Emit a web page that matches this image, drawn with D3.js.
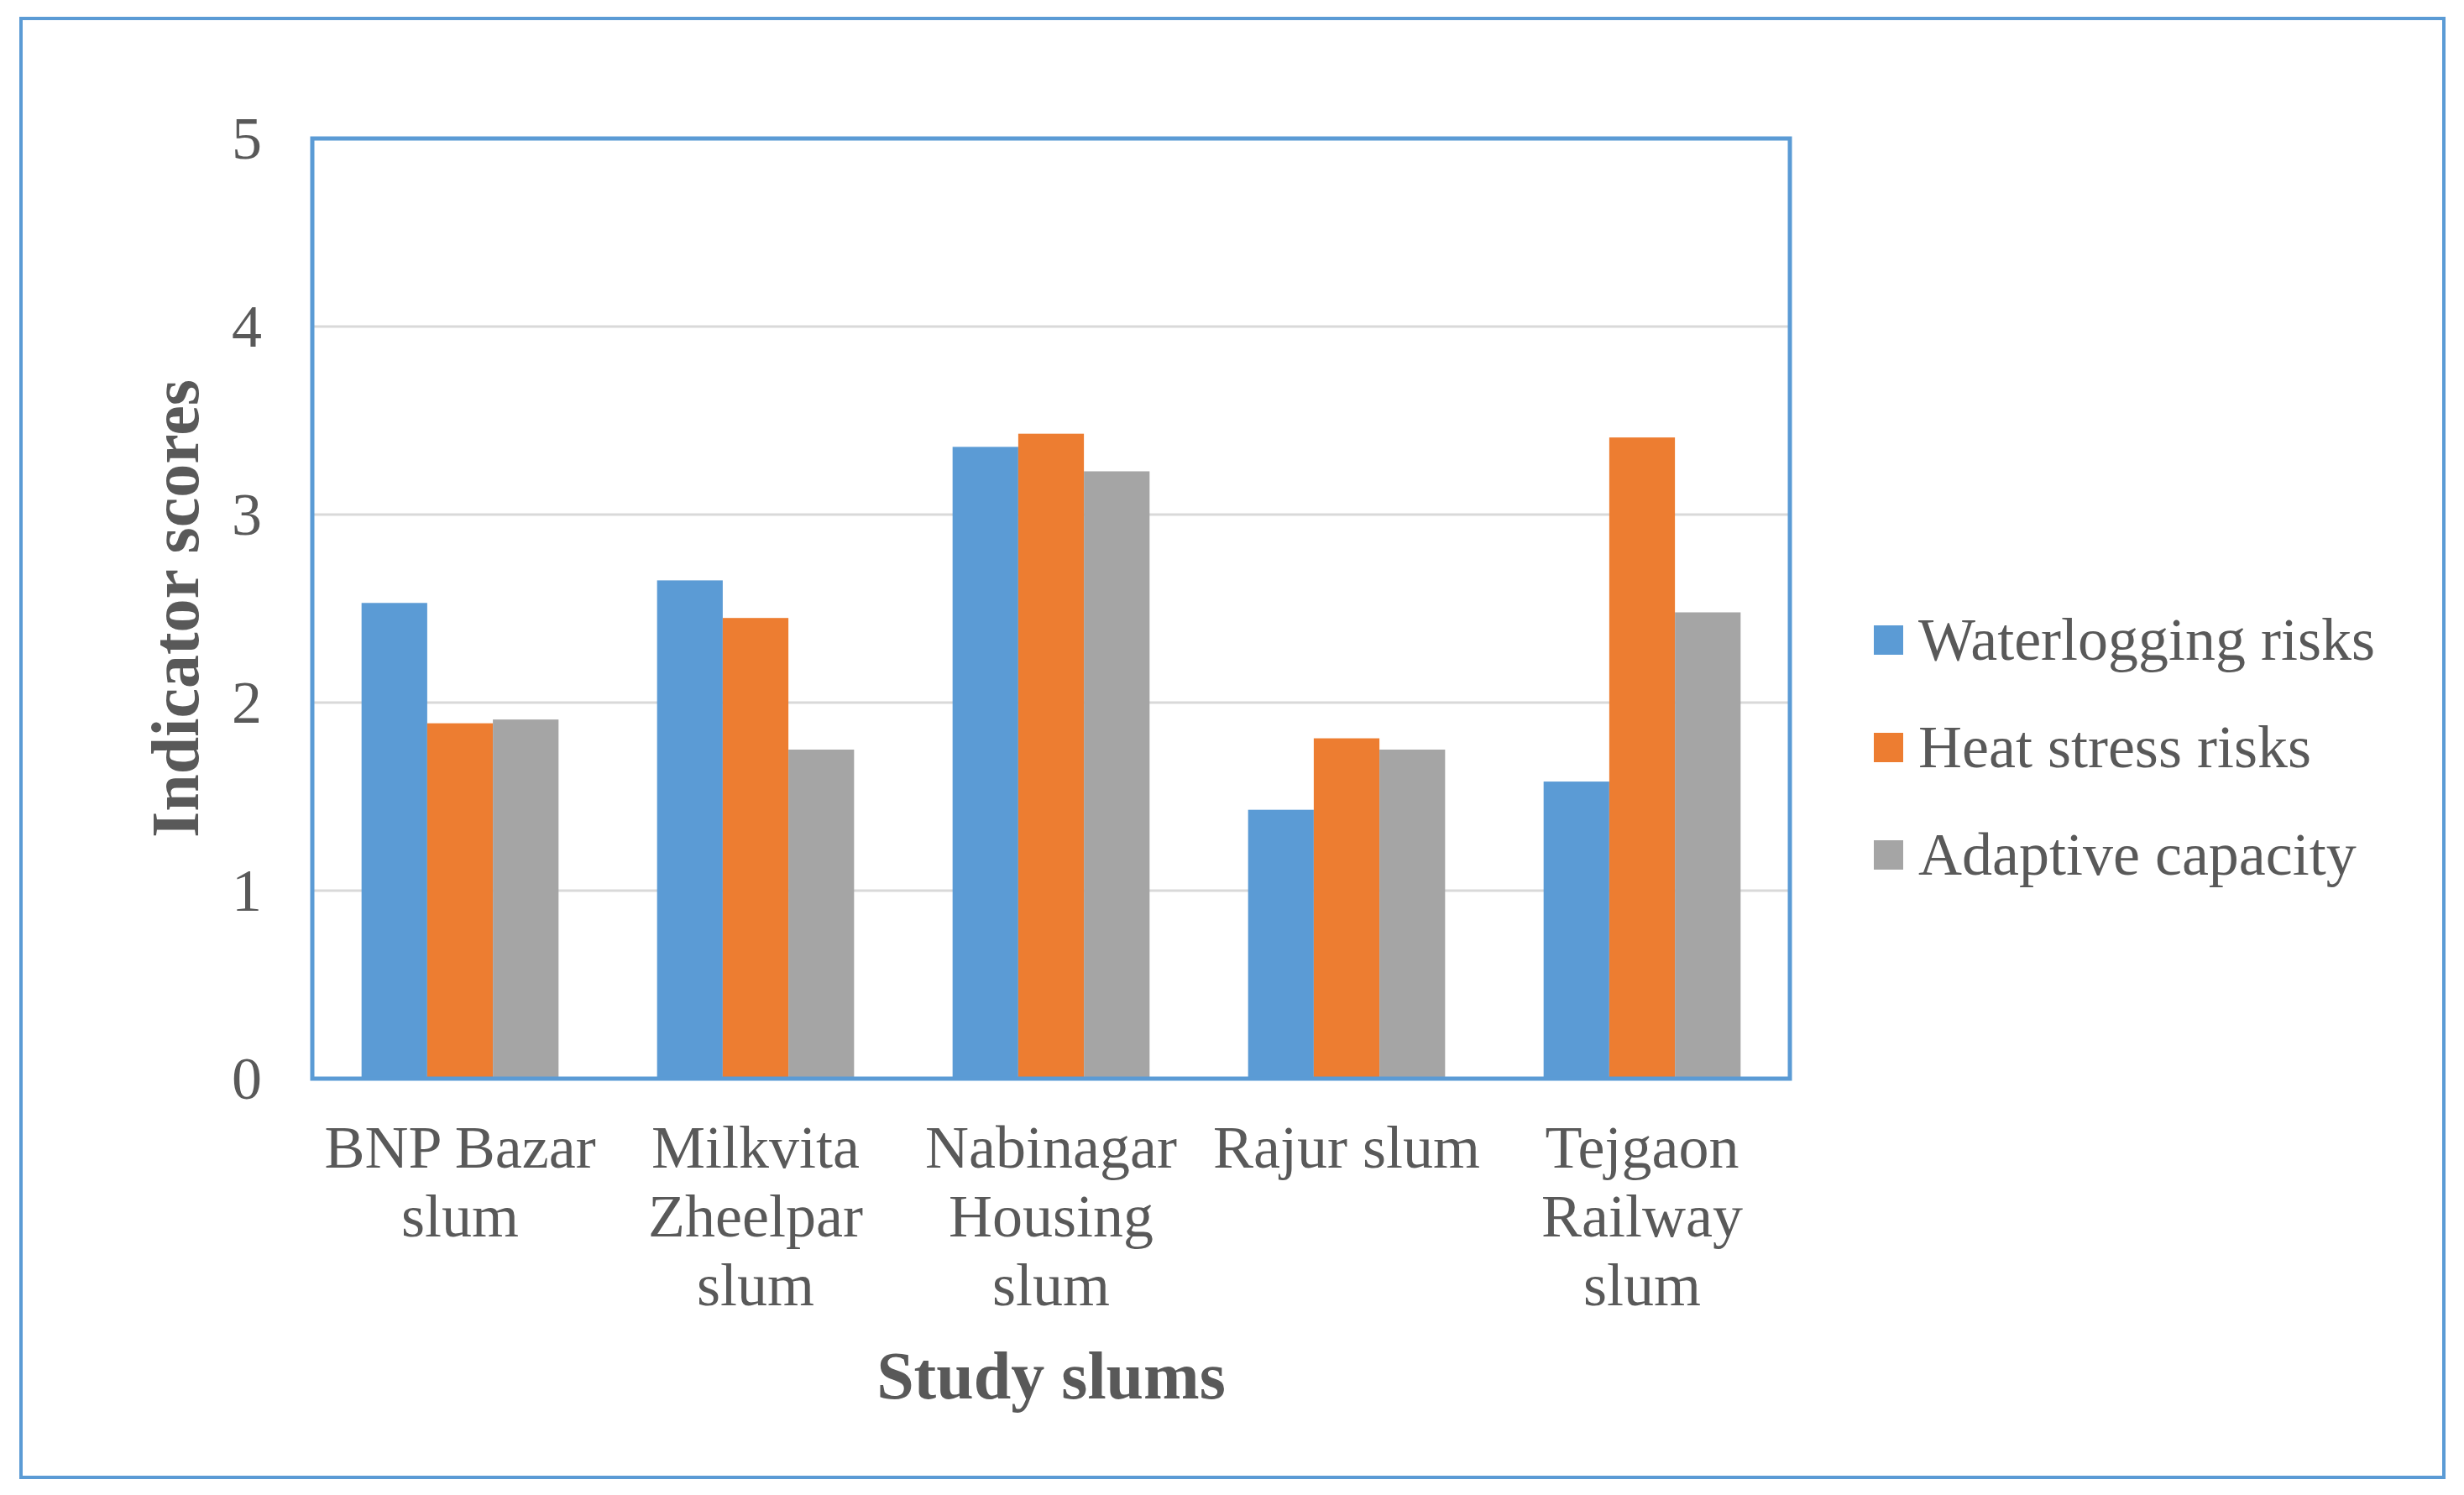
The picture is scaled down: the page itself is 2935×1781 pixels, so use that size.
<!DOCTYPE html>
<html>
<head>
<meta charset="utf-8">
<script src="https://cdn.jsdelivr.net/npm/d3@7"></script>
<style>
  body { margin: 0; background: #fff; }
  svg { display: block; }
</style>
</head>
<body>
<div id="chart"></div>
<script>
    const categories = ["BNP Bazar slum", "Milkvita Zheelpar slum", "Nabinagar Housing slum", "Rajur slum", "Tejgaon Railway slum"];
    const categoryLines = [["BNP Bazar", "slum"], ["Milkvita", "Zheelpar", "slum"], ["Nabinagar", "Housing", "slum"], ["Rajur slum"], ["Tejgaon", "Railway", "slum"]];
    const seriesNames = ["Waterlogging risks", "Heat stress risks", "Adaptive capacity"];
    const waterlogging = [2.53, 2.65, 3.36, 1.43, 1.58];
    const heatStress = [1.89, 2.45, 3.43, 1.81, 3.41];
    const adaptive = [1.91, 1.75, 3.23, 1.75, 2.48];
    const yTicks = [0, 1, 2, 3, 4, 5];
    const colors = ["#5b9bd5", "#ed7d31", "#a5a5a5"];

    function create_grouped_bars(targetElementId){
        const W = 2935, H = 1781;
        const margin = { top: 165, right: 803, bottom: 496, left: 372 };
        const width = W - margin.left - margin.right;
        const height = H - margin.top - margin.bottom;
        const font = "'Liberation Serif', 'Times New Roman', serif";
        const textColor = "#595959";

        const root = d3.select(`#${targetElementId}`).append("svg")
            .attr("width", W)
            .attr("height", H)
            .attr("viewBox", `0 0 ${W} ${H}`);

        // outer chart frame
        root.append("rect")
            .attr("x", 25).attr("y", 22)
            .attr("width", 2886).attr("height", 1738)
            .attr("fill", "#fff")
            .attr("stroke", "#5b9bd5")
            .attr("stroke-width", 4);

        const svg = root.append("g")
            .attr("transform", `translate(${margin.left},${margin.top})`);

        const table = categories.map((c, i) => ({
            cat: c,
            values: [waterlogging[i], heatStress[i], adaptive[i]]
        }));

        // gap width 150% like the spreadsheet default
        const x = d3.scaleBand()
            .domain(categories)
            .range([0, width])
            .paddingInner(1 / 3)
            .paddingOuter(1 / 6);

        const xs = d3.scaleBand()
            .domain(seriesNames)
            .range([0, x.bandwidth()]);

        const y = d3.scaleLinear()
            .domain([0, 5])
            .range([height, 0]);

        svg.selectAll(".grid")
            .data(yTicks.filter(d => d > 0 && d < 5))
            .enter()
            .append("line")
                .attr("class", "grid")
                .attr("x1", 0)
                .attr("x2", width)
                .attr("y1", d => y(d))
                .attr("y2", d => y(d))
                .attr("stroke", "#d9d9d9")
                .attr("stroke-width", 3);

        const groups = svg.selectAll(".grp")
            .data(table)
            .enter()
            .append("g")
                .attr("class", "grp")
                .attr("transform", d => `translate(${x(d.cat)},0)`);

        groups.selectAll("rect")
            .data(d => d.values.map((v, k) => ({ key: seriesNames[k], v: v, k: k })))
            .enter()
            .append("rect")
                .attr("x", d => xs(d.key))
                .attr("y", d => y(d.v))
                .attr("width", xs.bandwidth())
                .attr("height", d => height - y(d.v))
                .attr("fill", d => colors[d.k]);

        // plot area border
        svg.append("rect")
            .attr("x", 0).attr("y", 0)
            .attr("width", width).attr("height", height)
            .attr("fill", "none")
            .attr("stroke", "#5b9bd5")
            .attr("stroke-width", 5);

        // y axis labels
        svg.append("g")
            .call(d3.axisLeft(y).tickValues(yTicks).tickFormat(d3.format("d")).tickSize(0).tickPadding(60))
            .call(g => g.select(".domain").remove())
            .call(g => g.selectAll("text")
                .attr("font-family", font)
                .attr("font-size", 72)
                .attr("fill", textColor));

        // x axis labels, wrapped on several lines
        const xAxis = svg.append("g")
            .attr("transform", `translate(0,${height})`)
            .call(d3.axisBottom(x).tickSize(0).tickFormat(""))
            .call(g => g.select(".domain").remove());

        xAxis.selectAll(".tick text")
            .attr("font-family", font)
            .attr("font-size", 72)
            .attr("fill", textColor)
            .attr("y", 0)
            .attr("dy", null)
            .each(function(d, i) {
                d3.select(this).selectAll("tspan")
                    .data(categoryLines[i])
                    .enter()
                    .append("tspan")
                        .attr("x", 0)
                        .attr("y", (t, j) => 106 + j * 82)
                        .text(t => t);
            });

        // axis titles
        svg.append("text")
            .attr("x", width / 2)
            .attr("y", 1666 - margin.top)
            .attr("text-anchor", "middle")
            .attr("font-family", font)
            .attr("font-weight", "bold")
            .attr("font-size", 80)
            .attr("fill", textColor)
            .text("Study slums");

        svg.append("text")
            .attr("transform", `translate(${236 - margin.left},${height / 2}) rotate(-90)`)
            .attr("text-anchor", "middle")
            .attr("font-family", font)
            .attr("font-weight", "bold")
            .attr("font-size", 80)
            .attr("fill", textColor)
            .text("Indicator scores");

        // legend
        const legend = root.append("g")
            .attr("transform", "translate(2232,762)");

        const items = legend.selectAll(".item")
            .data(seriesNames)
            .enter()
            .append("g")
                .attr("class", "item")
                .attr("transform", (d, i) => `translate(0,${i * 128})`);

        items.append("rect")
            .attr("x", 0).attr("y", -17)
            .attr("width", 35).attr("height", 35)
            .attr("fill", (d, i) => colors[i]);

        items.append("text")
            .attr("x", 53)
            .attr("y", 24)
            .attr("font-family", font)
            .attr("font-size", 72)
            .attr("fill", textColor)
            .text(d => d);
    };

    create_grouped_bars("chart");
</script>
</body>
</html>
